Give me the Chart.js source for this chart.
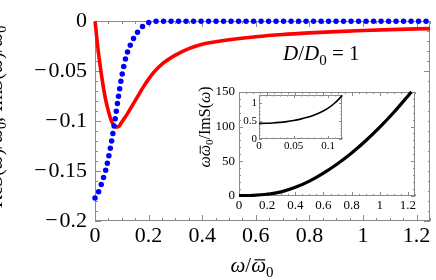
<!DOCTYPE html>
<html><head><meta charset="utf-8">
<script src="https://cdn.jsdelivr.net/npm/chart.js@4.4.1/dist/chart.umd.min.js"></script>
<style>
html,body{margin:0;padding:0;background:#fff;}
#wrap{position:relative;width:436px;height:280px;overflow:hidden;background:#fff;}
canvas{position:absolute;}
#main{left:0;top:0;}
#inset{left:178px;top:80px;background:#fff;}
#inner{left:242px;top:86px;}
</style></head><body>
<div id="wrap">
<canvas id="main" width="436" height="280"></canvas>
<canvas id="inset" width="250" height="135"></canvas>
<canvas id="inner" width="106" height="72"></canvas>
</div>
<script>
// ---------- data ----------
const omegaIm = [0, 0.005, 0.01, 0.02, 0.03, 0.04, 0.05, 0.06, 0.07, 0.08, 0.09, 0.1, 0.12, 0.14, 0.16, 0.18, 0.2, 0.22, 0.25, 0.3, 0.35, 0.4, 0.45, 0.5, 0.6, 0.7, 0.8, 0.9, 1.0, 1.1, 1.25];
const imS = [0, -0.012, -0.025, -0.046, -0.064, -0.079, -0.090, -0.099, -0.104, -0.106, -0.105, -0.101, -0.093, -0.084, -0.075, -0.066, -0.058, -0.051, -0.043, -0.034, -0.0275, -0.023, -0.0205, -0.0185, -0.0155, -0.0133, -0.0117, -0.0104, -0.0093, -0.0084, -0.0074];

const omegaRe = [0, 0.01, 0.02, 0.03, 0.04, 0.05, 0.06, 0.07, 0.08, 0.09, 0.1, 0.11, 0.12, 0.13, 0.14, 0.15, 0.16, 0.17, 0.18, 0.19, 0.2, 0.21, 0.22, 0.25, 0.3, 0.4, 0.5, 0.6, 0.7, 0.8, 0.9, 1.0, 1.1, 1.2, 1.25];
const reS = [-0.177, -0.173, -0.166, -0.158, -0.149, -0.137, -0.123, -0.107, -0.089, -0.071, -0.055, -0.042, -0.032, -0.025, -0.019, -0.0145, -0.0105, -0.0073, -0.0048, -0.0028, -0.0013, -0.0005, 0, 0, 0, 0, 0, 0, 0, 0, 0, 0, 0, 0, 0];

const omegaInv = [0, 0.1, 0.2, 0.3, 0.4, 0.5, 0.6, 0.7, 0.8, 0.9, 1.0, 1.1, 1.2, 1.225];
const invRatio = [0.45, 0.9, 2.5, 6, 12.5, 21.5, 33, 46.5, 62, 79.5, 99, 120.5, 144, 150];

const omegaZoom = [0, 0.01, 0.02, 0.03, 0.04, 0.05, 0.06, 0.07, 0.08, 0.09, 0.1, 0.11, 0.12];
const invRatioZoom = [0.44, 0.443, 0.452, 0.468, 0.49, 0.52, 0.56, 0.61, 0.675, 0.76, 0.87, 1.02, 1.22];

const mainXTicks = [0, 0.2, 0.4, 0.6, 0.8, 1, 1.2];
const mainYTicks = [-0.2, -0.15, -0.1, -0.05, 0];
const insetXTicks = [0, 0.2, 0.4, 0.6, 0.8, 1, 1.2];
const insetYTicks = [0, 50, 100, 150];
const innerXTicks = [0, 0.05, 0.1];
const innerYTicks = [0, 0.5, 1];

// ---------- helpers ----------
const SERIF = '"Liberation Serif", "DejaVu Serif", serif';
function pts(xs, ys){ return xs.map((x,i)=>({x:x, y:ys[i]})); }
function range(a, b, s){ const r=[]; for(let v=a; v<=b+1e-9; v+=s) r.push(+v.toFixed(6)); return r; }
function fmt(v){ const s = String(parseFloat(Number(v).toFixed(4))); return s.charAt(0)==='-' ? '\u2212\u200A'+s.slice(1) : s; }
function setTicks(arr){ return s => { s.ticks = arr.map(v=>({value:v})); }; }

function frameTicks(cfg){
  return {id:'frameTicks', beforeDatasetsDraw(chart){
    const {ctx, chartArea:a, scales:{x,y}} = chart;
    ctx.save(); ctx.strokeStyle = cfg.color; ctx.lineWidth = 1; ctx.beginPath();
    const L = Math.round(a.left), R = Math.round(a.right), T = Math.round(a.top), B = Math.round(a.bottom);
    const xs = (vals, len) => vals.forEach(v => { const p = Math.round(x.getPixelForValue(v))+0.5; ctx.moveTo(p,B); ctx.lineTo(p,B-len); ctx.moveTo(p,T); ctx.lineTo(p,T+len); });
    const ys = (vals, len) => vals.forEach(v => { const p = Math.round(y.getPixelForValue(v))+0.5; ctx.moveTo(L,p); ctx.lineTo(L+len,p); ctx.moveTo(R,p); ctx.lineTo(R-len,p); });
    xs(cfg.xMajor, cfg.major); xs(cfg.xMinor, cfg.minor);
    ys(cfg.yMajor, cfg.major); ys(cfg.yMinor, cfg.minor);
    ctx.stroke();
    ctx.strokeRect(L+0.5, T+0.5, R-L-1, B-T-1);
    ctx.restore();
  }};
}
// rich text: segments {t, it (italic), sub, bar}
function drawRich(ctx, segs, size, x, y, align, rot){
  const fontOf = s => (s.it ? 'italic ' : '') + (s.sub ? Math.round(size*0.7) : size) + 'px ' + SERIF;
  const widths = segs.map(s => { ctx.font = fontOf(s); return ctx.measureText(s.t).width; });
  const total = widths.reduce((a,b)=>a+b, 0);
  let cx = align === 'center' ? -total/2 : 0;
  ctx.save(); ctx.fillStyle = '#000'; ctx.strokeStyle = '#000'; ctx.textAlign = 'left'; ctx.textBaseline = 'alphabetic';
  ctx.translate(x, y); if (rot) ctx.rotate(rot);
  segs.forEach((s, i) => {
    ctx.font = fontOf(s);
    const dy = s.sub ? size*0.22 : 0;
    ctx.fillText(s.t, cx, dy);
    if (s.bar) { const by = -size*0.58; ctx.lineWidth = Math.max(1, size/18); ctx.beginPath(); ctx.moveTo(cx + widths[i]*0.22, by); ctx.lineTo(cx + widths[i]*0.95, by); ctx.stroke(); }
    cx += widths[i];
  });
  ctx.restore();
}
function texts(items){
  return {id:'texts', afterDraw(chart){ items.forEach(t => drawRich(chart.ctx, t.segs, t.size, t.x, t.y, t.align, t.rot)); }};
}
function axis(min, max, ticksArr, size, pad, fit){
  return { type:'linear', min:min, max:max, afterBuildTicks:setTicks(ticksArr), afterFit:fit,
    grid:{display:false, drawTicks:false}, border:{display:false},
    ticks:{font:{family:SERIF, size:size}, color:'#000', padding:pad, maxRotation:0, autoSkip:false, includeBounds:false, callback:fmt} };
}
const base = {responsive:false, animation:false, devicePixelRatio:1, events:[],
  plugins:{legend:{display:false}, tooltip:{enabled:false}}};

const omegaBar0 = [{t:'\u03C9', it:true, bar:true}, {t:'0', sub:true}];

// ---------- main chart ----------
new Chart(document.getElementById('main'), {
  type:'line',
  data:{datasets:[
    {data:pts(omegaRe, reS), borderColor:'#0000ff', borderWidth:5.5, borderDash:[0,7.5], borderCapStyle:'round', pointRadius:0, cubicInterpolationMode:'monotone', clip:6},
    {data:pts(omegaIm, imS), borderColor:'#ff0000', borderWidth:3.6, pointRadius:0, cubicInterpolationMode:'monotone', clip:3}
  ]},
  options:Object.assign({}, base, {
    layout:{padding:{left:0, right:6, top:14, bottom:0}},
    scales:{
      x: axis(0, 1.25, mainXTicks, 22, 2, s=>{ s.height = 59; }),
      y: axis(-0.2, 0, mainYTicks, 22, 8, s=>{ s.width = 95; })
    }
  }),
  plugins:[
    frameTicks({color:'#8a8a8a', major:6, minor:3, xMajor:mainXTicks, xMinor:range(0,1.25,0.05), yMajor:mainYTicks, yMinor:range(-0.2,0,0.01)}),
    texts([
      {segs:[{t:'\u03C9', it:true}, {t:'/'}].concat(omegaBar0), size:21, x:252, y:272, align:'center'},
      {segs:[{t:'D', it:true}, {t:'/'}, {t:'D', it:true}, {t:'0', sub:true}, {t:' = 1'}], size:21, x:283, y:60},
      {segs:[{t:'Re'}, {t:'S', it:true}, {t:'('}, {t:'\u03C9', it:true}, {t:')/'}].concat(omegaBar0, [{t:', Im'}, {t:'S', it:true}, {t:'('}, {t:'\u03C9', it:true}, {t:')/'}], omegaBar0),
        size:20, x:2, y:117, align:'center', rot:-Math.PI/2}
    ])
  ]
});

// ---------- inset ----------
new Chart(document.getElementById('inset'), {
  type:'line',
  data:{datasets:[
    {data:pts(omegaInv, invRatio), borderColor:'#000', borderWidth:3.2, pointRadius:0, cubicInterpolationMode:'monotone', clip:1}
  ]},
  options:Object.assign({}, base, {
    layout:{padding:{left:0, right:13, top:8, bottom:0}},
    scales:{
      x: axis(0, 1.25, insetXTicks, 13, 2, s=>{ s.height = 19; }),
      y: axis(0, 150, insetYTicks, 13, 4, s=>{ s.width = 61; })
    }
  }),
  plugins:[
    frameTicks({color:'#8a8a8a', major:4, minor:2, xMajor:insetXTicks, xMinor:range(0,1.25,0.05), yMajor:insetYTicks, yMinor:range(0,150,10)}),
    texts([
      {segs:[{t:'\u03C9', it:true}].concat(omegaBar0, [{t:'/ImS'}, {t:'('}, {t:'\u03C9', it:true}, {t:')'}]), size:16, x:31.5, y:47, align:'center', rot:-Math.PI/2}
    ])
  ]
});

// ---------- inset of inset ----------
new Chart(document.getElementById('inner'), {
  type:'line',
  data:{datasets:[
    {data:pts(omegaZoom, invRatioZoom), borderColor:'#000', borderWidth:1.6, pointRadius:0, cubicInterpolationMode:'monotone', clip:1}
  ]},
  options:Object.assign({}, base, {
    layout:{padding:{left:0, right:6, top:5, bottom:0}},
    scales:{
      x: axis(0, 0.12, innerXTicks, 11, 1, s=>{ s.height = 19; }),
      y: axis(0, 1.25, innerYTicks, 11, 2, s=>{ s.width = 17; })
    }
  }),
  plugins:[
    frameTicks({color:'#8a8a8a', major:3, minor:1.5, xMajor:innerXTicks, xMinor:range(0,0.12,0.01), yMajor:innerYTicks, yMinor:range(0,1.25,0.1)})
  ]
});
</script>
</body></html>
